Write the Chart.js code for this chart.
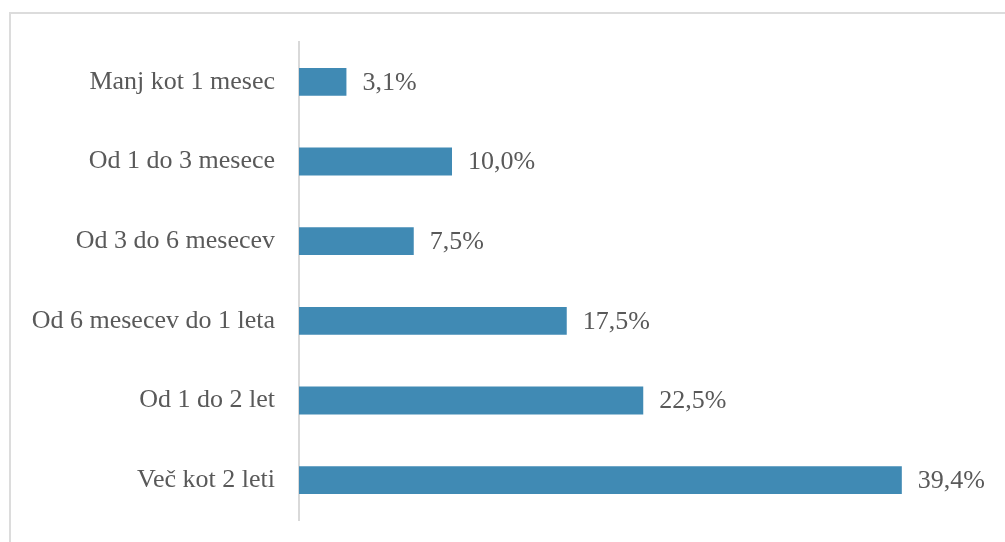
<!DOCTYPE html>
<html>
<head>
<meta charset="utf-8">
<script src="https://cdn.jsdelivr.net/npm/chart.js@4/dist/chart.umd.min.js"></script>
<style>
  html, body { margin:0; padding:0; background:#fff; overflow:hidden; }
  #wrap { position:relative; width:1005px; height:542px; overflow:hidden; }
  #frame { position:absolute; left:9px; top:12px; width:1100px; height:700px; border:2px solid #dcdcdc; box-sizing:border-box; }
  #box { position:absolute; left:0; top:0; width:1005px; height:542px; }
</style>
</head>
<body>
<div id="wrap">
  <div id="frame"></div>
  <div id="box"><canvas id="c"></canvas></div>
</div>
<script>
const categories = ["Manj kot 1 mesec", "Od 1 do 3 mesece", "Od 3 do 6 mesecev", "Od 6 mesecev do 1 leta", "Od 1 do 2 let", "Več kot 2 leti"];
const values = [3.1, 10.0, 7.5, 17.5, 22.5, 39.4];

const FONT = "'Liberation Serif', 'Times New Roman', serif";
const TEXT = "#595959";

const valueLabels = {
  id: 'valueLabels',
  afterDatasetsDraw(chart) {
    const ctx = chart.ctx;
    const meta = chart.getDatasetMeta(0);
    ctx.save();
    ctx.font = "26px " + FONT;
    ctx.fillStyle = TEXT;
    ctx.textAlign = 'left';
    ctx.textBaseline = 'middle';
    meta.data.forEach((el, i) => {
      const v = chart.data.datasets[0].data[i];
      ctx.fillText(v.toFixed(1).replace('.', ',') + '%', el.x + 16, el.y + 1);
    });
    ctx.restore();
  }
};

new Chart(document.getElementById('c'), {
  type: 'bar',
  data: {
    labels: categories,
    datasets: [{
      data: values,
      backgroundColor: '#408AB4',
      borderWidth: 0,
      barPercentage: 0.35,
      categoryPercentage: 1.0
    }]
  },
  options: {
    indexAxis: 'y',
    responsive: true,
    maintainAspectRatio: false,
    animation: false,
    layout: { padding: { top: 42, bottom: 22, left: 0, right: 94 } },
    plugins: { legend: { display: false }, tooltip: { enabled: false } },
    scales: {
      x: { display: false, min: 0, max: 40 },
      y: {
        grid: { display: false, drawTicks: false },
        border: { display: true, color: '#d9d9d9', width: 2 },
        ticks: { color: TEXT, font: { family: FONT, size: 26 }, padding: 24 },
        afterFit(scale) {
          scale.width = 299;
          scale.paddingTop = 0;
          scale.paddingBottom = 0;
        }
      }
    }
  },
  plugins: [valueLabels]
});
</script>
</body>
</html>
